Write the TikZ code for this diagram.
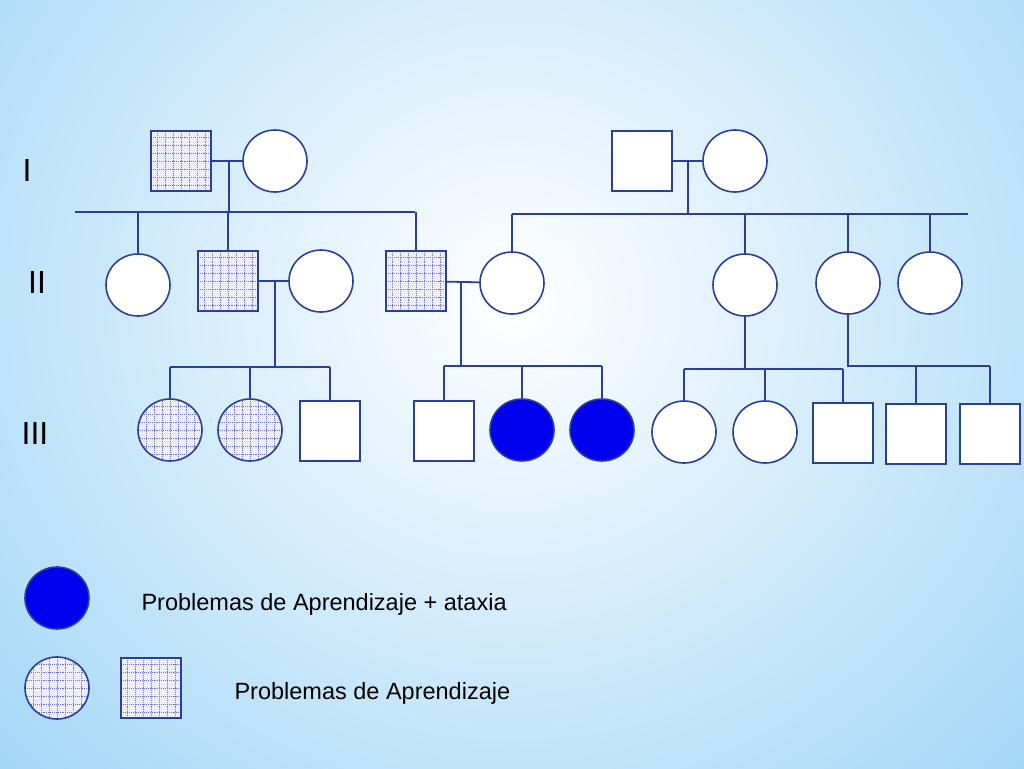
\documentclass[tikz,border=0pt]{standalone}
\usepackage{fontspec}
\setmainfont{Liberation Sans}
\definecolor{linecol}{HTML}{2B3F98}
\definecolor{gridcol}{HTML}{6A6FD8}
\definecolor{skyblue}{HTML}{9ED4F6}
\definecolor{fullblue}{HTML}{0000EE}
\tikzset{
    %standard line
    lin/.style={draw=linecol, line width=1.8pt},
    %plain individuals
    male/.style={rectangle, draw=linecol, line width=1.6pt, fill=white, minimum size=60pt, inner sep=0pt},
    female/.style={ellipse, draw=linecol, line width=1.6pt, fill=white, minimum width=64pt, minimum height=62pt, inner sep=0pt},
    %affected (learning problems)
    grid/.style={fill=white!88!gridcol,
        path picture={
          \foreach \k in {-40,-32,...,40}{
            \draw[gridcol, densely dotted, line width=0.9pt] ([xshift=\k pt]path picture bounding box.north) -- ([xshift=\k pt]path picture bounding box.south);
            \draw[gridcol, densely dotted, line width=0.9pt] ([yshift=\k pt]path picture bounding box.east) -- ([yshift=\k pt]path picture bounding box.west);}
        }},
    %affected (learning problems + ataxia)
    full/.style={fill=fullblue},
    gen/.style={font=\fontsize{32}{36}\selectfont},
    legtext/.style={anchor=west, font=\fontsize{23.5}{27}\selectfont}
}
\usetikzlibrary{shapes.geometric}
\begin{document}
\begin{tikzpicture}[x=1pt, y=-1pt]
\begin{scope}
\clip (0,0) rectangle (1024,768);
\shade[inner color=white, outer color=skyblue] (-250,-420) rectangle (1274,1020);
\end{scope}
\useasboundingbox (0,0) rectangle (1024,768);

% generation labels
\node[gen] (g1) at (27,170) {I};
\node[gen] (g2) at (37,282) {II};
\node[gen] (g3) at (35,433) {III};

% generation I
\node[male, grid] (a1) at (181,161) {};
\node[female] (a2) at (275,161) {};
\node[male] (a3) at (642,161) {};
\node[female] (a4) at (735,161) {};

% generation II
\node[female] (b1) at (138,285) {};
\node[male, grid] (b2) at (228,281) {};
\node[female] (b3) at (321,281) {};
\node[male, grid] (b4) at (416,281) {};
\node[female] (b5) at (512,283) {};
\node[female] (b6) at (745,285) {};
\node[female] (b7) at (848,283) {};
\node[female] (b8) at (930,283) {};

% generation III
\node[female, grid] (c1) at (170,430) {};
\node[female, grid] (c2) at (250,430) {};
\node[male] (c3) at (330,431) {};
\node[male] (c4) at (444,431) {};
\node[female, full] (c5) at (522,430) {};
\node[female, full] (c6) at (602,430) {};
\node[female] (c7) at (684,432) {};
\node[female] (c8) at (765,432) {};
\node[male] (c9) at (843,433) {};
\node[male] (c10) at (916,434) {};
\node[male] (c11) at (990,434) {};

% sibship bars
\coordinate (s1) at (0,212);
\coordinate (s2) at (0,214);
\coordinate (s3) at (0,367);
\coordinate (s4) at (0,366);
\coordinate (s5) at (0,369);

% marriages and descent
\coordinate (m1) at (229,161);
\coordinate (m2) at (688,161);
\coordinate (m3) at (275,281);
\coordinate (m4) at (461,281);
\draw[lin] (a1) -- (a2);
\draw[lin] (a3) -- (a4);
\draw[lin] (b2) -- (b3);
\draw[lin] (b4) -- (b5);
\draw[lin] (m1) -- (m1 |- s1) (75,212) -- (415,212);
\foreach \n in {b1,b2,b4} \draw[lin] (\n |- s1) -- (\n.north);
\draw[lin] (m2) -- (m2 |- s2) (512,214) -- (968,214);
\foreach \n in {b5,b6,b7,b8} \draw[lin] (\n |- s2) -- (\n.north);
\draw[lin] (m3) -- (m3 |- s3) (c1 |- s3) -- (c3 |- s3);
\foreach \n in {c1,c2,c3} \draw[lin] (\n |- s3) -- (\n.north);
\draw[lin] (m4) -- (m4 |- s4) (c4 |- s4) -- (c6 |- s4);
\foreach \n in {c4,c5,c6} \draw[lin] (\n |- s4) -- (\n.north);
\draw[lin] (b6.south) -- (b6 |- s5) (c7 |- s5) -- (c9 |- s5);
\foreach \n in {c7,c8,c9} \draw[lin] (\n |- s5) -- (\n.north);
\draw[lin] (b7.south) -- (b7 |- s4) -- (c11 |- s4);
\foreach \n in {c10,c11} \draw[lin] (\n |- s4) -- (\n.north);

% legend
\node[female, full] (k1) at (57,598) {};
\node[legtext] (t1) at (138,604) {Problemas de Aprendizaje + ataxia};
\node[female, grid] (k2) at (57,688) {};
\node[male, grid] (k3) at (151,688) {};
\node[legtext] (t2) at (231,693) {Problemas de Aprendizaje};
\end{tikzpicture}
\end{document}
